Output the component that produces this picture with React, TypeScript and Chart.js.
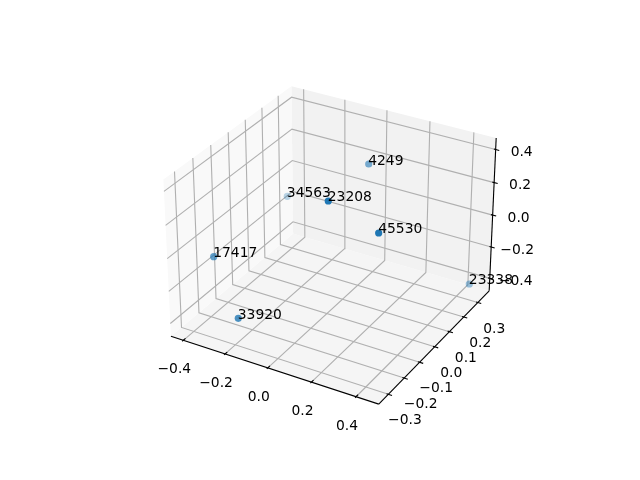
import React, { useEffect, useRef } from "react";
import { Chart, registerables } from "chart.js";

Chart.register(...registerables);

const labels = ["4249", "23208", "45530", "34563", "17417", "33920", "23338"];
const xValues = [0.0606, 0.1474, 0.3451, -0.3418, -0.3368, -0.141, 0.4725];
const yValues = [0.1809, -0.1869, -0.1533, 0.1992, -0.2465, -0.3493, 0.2762];
const zValues = [0.3176, 0.4242, 0.2845, -0.0395, -0.0384, -0.2438, -0.3512];

const xLim = [-0.46, 0.5];
const yLim = [-0.3594, 0.3832];
const zLim = [-0.4807, 0.4683];
const xTicks = [-0.4, -0.2, 0, 0.2, 0.4];
const yTicks = [-0.3, -0.2, -0.1, 0, 0.1, 0.2, 0.3];
const zTicks = [-0.4, -0.2, 0, 0.2, 0.4];

const FONT = '13.89px "DejaVu Sans"';
const box = [1.1905, 1.1905, 0.8929];
const u = [0.866, 0.5, 0];
const v = [-0.25, 0.433, 0.866];
const w = [0.433, -0.75, 0.5];
const dot = (a: number[], b: number[]) => a[0] * b[0] + a[1] * b[1] + a[2] * b[2];

const centered = (x: number, y: number, z: number) => [
  ((x - xLim[0]) / (xLim[1] - xLim[0]) - 0.5) * box[0],
  ((y - yLim[0]) / (yLim[1] - yLim[0]) - 0.5) * box[1],
  ((z - zLim[0]) / (zLim[1] - zLim[0]) - 0.5) * box[2],
];
const project = (x: number, y: number, z: number) => {
  const q = centered(x, y, z);
  const d = 10 - dot(w, q);
  return {
    x: 328 + 2000 * (dot(u, q) / d + 0.0025),
    y: 242.5 - 2000 * (dot(v, q) / d + 0.0025),
  };
};
const depth = (x: number, y: number, z: number) => dot(w, centered(x, y, z));
const fmt = (t: number) => (t < 0 ? "\u2212" : "") + Math.abs(t).toFixed(1);

const [x0, x1] = xLim;
const [y0, y1] = yLim;
const [z0, z1] = zLim;
const dx = (x1 - x0) / 12;
const dy = (y1 - y0) / 12;

const line = (pts: number[][], color: string, width: number, order: number) => ({
  data: pts.map((p) => project(p[0], p[1], p[2])),
  showLine: true,
  borderColor: color,
  borderWidth: width,
  pointRadius: 0,
  order,
});
const pane = (pts: number[][], color: string) => ({
  ...line(pts, "rgba(0,0,0,0)", 0, 30),
  fill: "shape",
  backgroundColor: color,
});

const depths = xValues.map((x, i) => depth(x, yValues[i], zValues[i]));
const dMin = Math.min(...depths);
const dMax = Math.max(...depths);
const pointColors = depths.map(
  (d) => `rgba(31,119,180,${(0.3 + (0.7 * (d - dMin)) / (dMax - dMin)).toFixed(3)})`
);

const datasets: any[] = [
  pane([[x0, y0, z0], [x0, y1, z0], [x0, y1, z1], [x0, y0, z1], [x0, y0, z0]], "#f9f9f9"),
  pane([[x0, y1, z0], [x1, y1, z0], [x1, y1, z1], [x0, y1, z1], [x0, y1, z0]], "#f2f2f2"),
  pane([[x0, y0, z0], [x1, y0, z0], [x1, y1, z0], [x0, y1, z0], [x0, y0, z0]], "#f5f5f5"),
  ...xTicks.map((t) => line([[t, y0, z0], [t, y1, z0], [t, y1, z1]], "#b0b0b0", 1.11, 20)),
  ...yTicks.map((t) => line([[x1, t, z0], [x0, t, z0], [x0, t, z1]], "#b0b0b0", 1.11, 20)),
  ...zTicks.map((t) => line([[x0, y0, t], [x0, y1, t], [x1, y1, t]], "#b0b0b0", 1.11, 20)),
  line([[x0, y0, z0], [x1, y0, z0]], "#000000", 1.11, 10),
  line([[x1, y0, z0], [x1, y1, z0]], "#000000", 1.11, 10),
  line([[x1, y1, z0], [x1, y1, z1]], "#000000", 1.11, 10),
  ...xTicks.map((t) => line([[t, y0 - 0.1 * dy, z0], [t, y0 + 0.2 * dy, z0]], "#000000", 1.11, 10)),
  ...yTicks.map((t) => line([[x1 + 0.2 * dx, t, z0], [x1 - 0.1 * dx, t, z0]], "#000000", 1.11, 10)),
  ...zTicks.map((t) => line([[x1 + 0.2 * dx, y1, t], [x1 - 0.1 * dx, y1, t]], "#000000", 1.11, 10)),
  {
    data: xValues.map((x, i) => project(x, yValues[i], zValues[i])),
    showLine: false,
    pointRadius: 3.6,
    pointBorderWidth: 0,
    pointBackgroundColor: pointColors,
    order: 1,
  },
];

const textPlugin = {
  id: "text3d",
  afterDatasetsDraw(chart: any) {
    const { ctx, scales } = chart;
    const px = (p: { x: number; y: number }) => ({
      x: scales.x.getPixelForValue(p.x),
      y: scales.y.getPixelForValue(p.y),
    });
    ctx.save();
    ctx.font = FONT;
    ctx.fillStyle = "#000000";
    ctx.textAlign = "center";
    ctx.textBaseline = "middle";
    xTicks.forEach((t) => {
      const p = px(project(t, y0, z0));
      ctx.fillText(fmt(t), p.x - 9, p.y + 29.5);
    });
    yTicks.forEach((t) => {
      const p = px(project(x1, t, z0));
      ctx.fillText(fmt(t), p.x + 16.5, p.y + 26.5);
    });
    zTicks.forEach((t) => {
      const p = px(project(x1, y1, t));
      ctx.fillText(fmt(t), p.x + 26, p.y + 3);
    });
    ctx.textAlign = "left";
    ctx.textBaseline = "alphabetic";
    labels.forEach((s, i) => {
      const p = px(project(xValues[i], yValues[i], zValues[i]));
      ctx.fillText(s, p.x - 0.5, p.y + 0.5);
    });
    ctx.restore();
  },
};

export default function App() {
  const ref = useRef<HTMLCanvasElement>(null);
  useEffect(() => {
    const chart = new Chart(ref.current as HTMLCanvasElement, {
      type: "scatter",
      data: { datasets },
      options: {
        responsive: false,
        animation: false,
        layout: { autoPadding: false, padding: 0 },
        plugins: { legend: { display: false }, tooltip: { enabled: false } },
        datasets: { scatter: { clip: false } },
        scales: {
          x: { type: "linear", min: 0, max: 640, display: false },
          y: { type: "linear", min: 0, max: 480, reverse: true, display: false },
        },
      },
      plugins: [textPlugin],
    } as any);
    return () => chart.destroy();
  }, []);
  return (
    <div style={{ position: "absolute", left: 0, top: 0, width: 640, height: 480, background: "#fff" }}>
      <canvas ref={ref} width={640} height={480} style={{ display: "block" }} />
    </div>
  );
}
